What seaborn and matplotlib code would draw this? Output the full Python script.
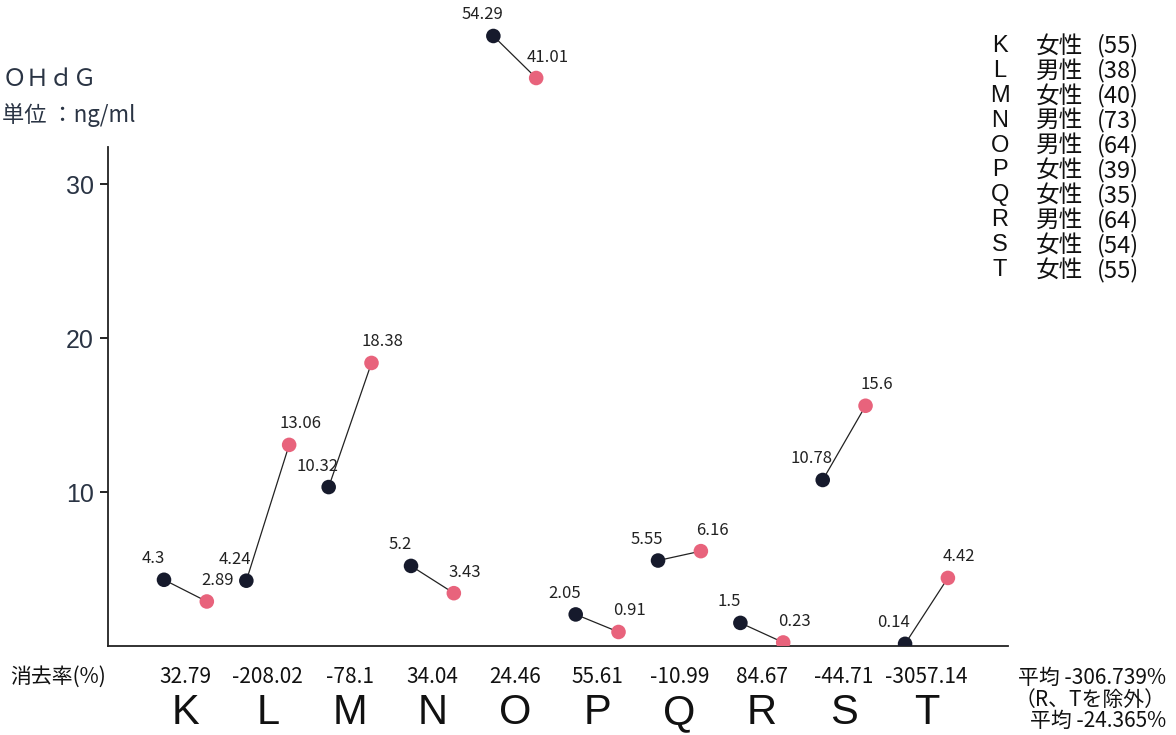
import pandas as pd
import matplotlib
matplotlib.use("Agg")
import matplotlib.pyplot as plt
import seaborn as sns

# 被験者ごとの 8-OHdG 値（単位 ng/ml）
subjects = ["K", "L", "M", "N", "O", "P", "Q", "R", "S", "T"]
before = [4.3, 4.24, 10.32, 5.2, 54.29, 2.05, 5.55, 1.5, 10.78, 0.14]
after = [2.89, 13.06, 18.38, 3.43, 41.01, 0.91, 6.16, 0.23, 15.6, 4.42]
rates = ["32.79", "-208.02", "-78.1", "34.04", "24.46", "55.61",
         "-10.99", "84.67", "-44.71", "-3057.14"]
sex = ["女性", "男性", "女性", "男性", "男性", "女性", "女性", "男性", "女性", "女性"]
ages = [55, 38, 40, 73, 64, 39, 35, 64, 54, 55]

sns.set_theme(style="white")
plt.rcParams["font.family"] = ["Noto Sans CJK JP", "DejaVu Sans"]

NARROW = ["Liberation Sans Narrow", "Noto Sans CJK JP"]
ARIAL = ["Liberation Sans", "Noto Sans CJK JP"]
C_BEFORE = "#161a2c"
C_AFTER = "#e8637c"

W, H = 1176, 735


def rect(l, t, r, b):
    return [l / W, 1 - b / H, (r - l) / W, (b - t) / H]


# 長い形式に
rows = []
for i, s in enumerate(subjects):
    rows.append({"subject": s, "pos": i - 0.26, "value": before[i], "kind": "before"})
    rows.append({"subject": s, "pos": i + 0.26, "value": after[i], "kind": "after"})
df = pd.DataFrame(rows)

fig = plt.figure(figsize=(W / 100, H / 100), dpi=100)
ax = fig.add_axes(rect(108, 147, 1008, 646))
ax_hi = fig.add_axes(rect(108, 10, 1008, 110))  # スケール外の値用
ax.set_xlim(-0.94, 9.99)
ax.set_ylim(0, 499 / 15.4)
ax_hi.set_xlim(-0.94, 9.99)
ax_hi.set_ylim(30.9, 62.5)
ax_hi.axis("off")

top = ax.get_ylim()[1]
df["hi"] = df.groupby("subject")["value"].transform("max") > top

for target, part in [(ax, df[~df["hi"]]), (ax_hi, df[df["hi"]])]:
    for s, g in part.groupby("subject"):
        target.plot(g["pos"], g["value"], color="#222222", lw=0.9, zorder=2)
    sns.scatterplot(data=part, x="pos", y="value", hue="kind",
                    palette={"before": C_BEFORE, "after": C_AFTER},
                    s=110, edgecolor="none", legend=False, ax=target, zorder=3)
    for _, r in part.iterrows():
        dx = -8 if r["kind"] == "before" else 8
        target.annotate(f"{r['value']:g}", (r["pos"], r["value"]),
                        xytext=(dx, 9), textcoords="offset points",
                        ha="center", va="bottom", fontsize=12,
                        family=NARROW, color="#222222")

ax.set_xlabel("")
ax.set_ylabel("")
ax_hi.set_xlabel("")
ax_hi.set_ylabel("")
ax.set_xticks([])
ax.set_yticks([10, 20, 30])
ax.set_yticklabels(["10", "20", "30"], family=ARIAL, fontsize=18, color="#2a3444")
ax.tick_params(axis="y", direction="out", length=6, width=1.4, color="#222222",
               left=True, pad=4)
for side in ["top", "right"]:
    ax.spines[side].set_visible(False)
for side in ["left", "bottom"]:
    ax.spines[side].set_color("#222222")
    ax.spines[side].set_linewidth(1.3)

# 消去率と被験者記号
xt = ax.get_xaxis_transform()
for i, s in enumerate(subjects):
    ax.text(i, -0.062, rates[i], transform=xt, ha="center", va="center",
            fontsize=15, family=NARROW, color="#111111")
    ax.text(i, -0.135, s, transform=xt, ha="center", va="center",
            fontsize=30, family=ARIAL, color="#111111")

fig.text(10 / W, 1 - 677 / H, "消去率(%)", ha="left", va="center",
         fontsize=15, color="#111111")
fig.text(1166 / W, 1 - 667 / H,
         "平均 -306.739%\n（R、Tを除外）\n平均 -24.365%",
         ha="right", va="top", multialignment="right",
         fontsize=15, linespacing=0.98, color="#111111")

# 単位
fig.text(3 / W, 1 - 80 / H, "ＯＨｄＧ", ha="left", va="center",
         fontsize=17, color="#2a3444")
fig.text(2 / W, 1 - 115 / H, "単位 ：ng/ml", ha="left", va="center",
         fontsize=16, color="#2a3444")

# 被験者一覧
for i, s in enumerate(subjects):
    y = 1 - (46 + i * 24.9) / H
    fig.text(1000 / W, y, s, ha="center", va="center", fontsize=17,
             family=ARIAL, color="#111111")
    fig.text(1036 / W, y, sex[i], ha="left", va="center", fontsize=17,
             color="#111111")
    fig.text(1097 / W, y, f"({ages[i]})", ha="left", va="center", fontsize=17,
             family=NARROW, color="#111111")

fig.savefig("out.png", dpi=100, facecolor="white")
